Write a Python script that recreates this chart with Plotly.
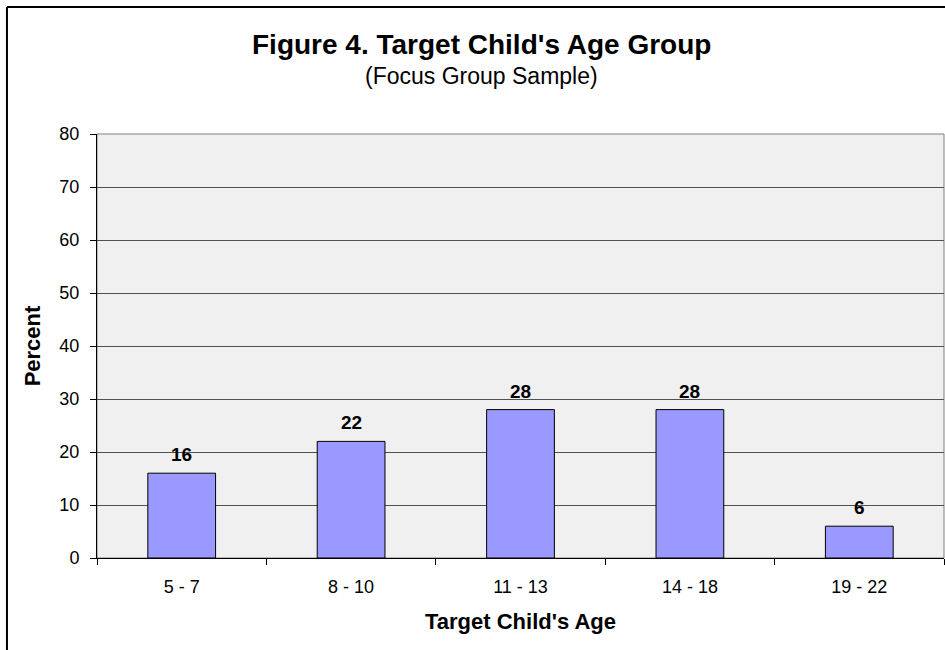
import plotly.graph_objects as go

# Age groups of the target child and share of the focus group sample (%)
age_groups = ["5 - 7", "8 - 10", "11 - 13", "14 - 18", "19 - 22"]
percent = [16, 22, 28, 28, 6]
y_ticks = [0, 10, 20, 30, 40, 50, 60, 70, 80]

FONT = "Liberation Sans, Arial, sans-serif"

fig = go.Figure()
fig.add_trace(go.Bar(
    x=age_groups,
    y=percent,
    width=0.4,
    marker=dict(color="#9999ff", line=dict(color="#000000", width=1)),
    hoverinfo="x+y",
))

# Value labels above each bar
for g, v in zip(age_groups, percent):
    fig.add_annotation(
        x=g, y=v, text=f"<b>{v}</b>", showarrow=False,
        yanchor="bottom", yshift=6,
        font=dict(family=FONT, size=19, color="#000000"),
    )

# Chart title and subtitle
fig.add_annotation(
    x=0.4534, y=1.21, xref="paper", yref="paper",
    text="<b>Figure 4. Target Child's Age Group</b>", showarrow=False,
    font=dict(family=FONT, size=28, color="#000000"),
    xanchor="center", yanchor="middle",
)
fig.add_annotation(
    x=0.4534, y=1.136, xref="paper", yref="paper",
    text="(Focus Group Sample)", showarrow=False,
    font=dict(family=FONT, size=23, color="#000000"),
    xanchor="center", yanchor="middle",
)

# Plot-area outline and the outer chart frame
fig.add_shape(type="rect", xref="paper", yref="paper", x0=0, y0=0, x1=1, y1=1,
              line=dict(color="#808080", width=1), layer="below")
fig.add_shape(type="line", xref="paper", yref="paper",
              x0=-0.1063, y0=-0.3, x1=-0.1063, y1=1.2995,
              line=dict(color="#000000", width=2))
fig.add_shape(type="line", xref="paper", yref="paper",
              x0=-0.1063, y0=1.2995, x1=1.05, y1=1.2995,
              line=dict(color="#000000", width=2))

fig.update_layout(
    width=945, height=650,
    margin=dict(l=97, r=1, t=134, b=92),
    paper_bgcolor="#ffffff",
    plot_bgcolor="#f0f0f0",
    showlegend=False,
    bargap=0.6,
    font=dict(family=FONT, size=18, color="#000000"),
    xaxis=dict(
        type="category",
        tickson="boundaries",
        ticks="outside", ticklen=6, tickcolor="#000000",
        showline=True, linecolor="#000000", linewidth=1,
        showgrid=False,
        tickfont=dict(family=FONT, size=18),
        ticklabelstandoff=12,
        title=dict(text="<b>Target Child's Age</b>",
                   font=dict(family=FONT, size=22), standoff=18),
    ),
    yaxis=dict(
        range=[0, 80],
        tickvals=y_ticks,
        ticks="outside", ticklen=6, tickcolor="#000000",
        showline=True, linecolor="#000000", linewidth=1,
        showgrid=True, gridcolor="#505050", gridwidth=1,
        zeroline=False,
        tickfont=dict(family=FONT, size=18),
        ticklabelstandoff=7,
        title=dict(text="<b>Percent</b>",
                   font=dict(family=FONT, size=22), standoff=12),
    ),
)

fig.write_html("out.html")
